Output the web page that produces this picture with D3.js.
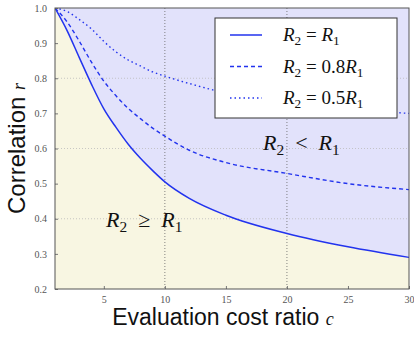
<!DOCTYPE html>
<html>
<head>
<meta charset="utf-8">
<script src="https://cdn.jsdelivr.net/npm/d3@7"></script>
<style>
  body { margin: 0; background: #fff; }
  svg { display: block; }
  .tick text { font-family: "Liberation Serif", serif; font-size: 10px; fill: #555; }
  .math { font-family: "Liberation Serif", serif; }
</style>
</head>
<body>
<script>
/* Data */

var costRatio = [1, 2, 3, 4, 5, 6, 7, 8, 9, 10, 12, 15, 20, 25, 30];
var corrEqual = [1.0, 0.935, 0.858, 0.782, 0.713, 0.66, 0.612, 0.572, 0.537, 0.505, 0.458, 0.41, 0.358, 0.32, 0.29];
var corr08 = [1.0, 0.96, 0.905, 0.845, 0.792, 0.75, 0.714, 0.685, 0.658, 0.635, 0.595, 0.56, 0.529, 0.50, 0.483];
var corr05 = [1.0, 0.99, 0.967, 0.94, 0.905, 0.875, 0.852, 0.835, 0.818, 0.806, 0.785, 0.758, 0.732, 0.712, 0.70];

var xTicks = [5, 10, 15, 20, 25, 30];
var yTicks = [0.2, 0.3, 0.4, 0.5, 0.6, 0.7, 0.8, 0.9, 1.0];
var xGrid = [10, 20];
var yGrid = [0.4, 0.6, 0.8];

var seriesNames = [["R", "2", " = ", "R", "1"], ["R", "2", " = 0.8", "R", "1"], ["R", "2", " = 0.5", "R", "1"]];
var seriesDash = [null, "4,3", "1.5,3"];

/* Chart */

var width = 414, height = 341;
var blue = "#2233ee";

var svg = d3.select("body").append("svg")
    .attr("width", width)
    .attr("height", height);

var x = d3.scaleLinear().domain([1, 30]).range([55, 409]);
var y = d3.scaleLinear().domain([0.2, 1.0]).range([289, 8]);

svg.append("clipPath").attr("id", "plot")
  .append("rect")
    .attr("x", x(1)).attr("y", y(1))
    .attr("width", x(30) - x(1)).attr("height", y(0.2) - y(1));

var plot = svg.append("g").attr("clip-path", "url(#plot)");

// R2 < R1 region
plot.append("rect")
    .attr("x", x(1)).attr("y", y(1))
    .attr("width", x(30) - x(1)).attr("height", y(0.2) - y(1))
    .attr("fill", "#e2e2fb");

var pts = costRatio.map(function(c, i) { return [c, corrEqual[i]]; });

// R2 >= R1 region
plot.append("path")
    .datum(pts)
    .attr("fill", "#f8f6e2")
    .attr("d", d3.area()
        .x(function(d) { return x(d[0]); })
        .y0(y(0.2))
        .y1(function(d) { return y(d[1]); })
        .curve(d3.curveMonotoneX));

// grid
plot.selectAll(".gx").data(xGrid).enter().append("line")
    .attr("x1", function(d) { return x(d); }).attr("x2", function(d) { return x(d); })
    .attr("y1", y(1)).attr("y2", y(0.2))
    .attr("stroke", "#666").attr("stroke-width", 0.8).attr("stroke-dasharray", "1,2");

plot.selectAll(".gy").data(yGrid).enter().append("line")
    .attr("x1", x(1)).attr("x2", x(30))
    .attr("y1", function(d) { return y(d); }).attr("y2", function(d) { return y(d); })
    .attr("stroke", "#bbb").attr("stroke-width", 0.8).attr("stroke-dasharray", "1,2");

var line = d3.line()
    .x(function(d) { return x(d[0]); })
    .y(function(d) { return y(d[1]); })
    .curve(d3.curveMonotoneX);

[corrEqual, corr08, corr05].forEach(function(vals, k) {
  plot.append("path")
      .datum(costRatio.map(function(c, i) { return [c, vals[i]]; }))
      .attr("fill", "none")
      .attr("stroke", blue)
      .attr("stroke-width", k == 0 ? 1.5 : 1.4)
      .attr("stroke-dasharray", seriesDash[k])
      .attr("d", line);
});

// axes
var xAxis = svg.append("g")
    .attr("transform", "translate(0," + y(0.2) + ")")
    .call(d3.axisBottom(x).tickValues(xTicks).tickSize(-3).tickPadding(7).tickFormat(d3.format("d")));
var yAxis = svg.append("g")
    .attr("transform", "translate(" + x(1) + ",0)")
    .call(d3.axisLeft(y).tickValues(yTicks).tickSize(-3).tickPadding(8).tickFormat(d3.format(".1f")));

[xAxis, yAxis].forEach(function(a) {
  a.select(".domain").remove();
  a.selectAll(".tick line").attr("stroke", "#777");
});

svg.append("rect")
    .attr("x", x(1)).attr("y", y(1))
    .attr("width", x(30) - x(1)).attr("height", y(0.2) - y(1))
    .attr("fill", "none").attr("stroke", "#555").attr("stroke-width", 1);

// math label helper
function mathText(g, parts, size) {
  var t = g.append("text").attr("class", "math").attr("font-size", size).attr("fill", "#111")
      .attr("xml:space", "preserve");
  t.append("tspan").attr("font-style", "italic").text(parts[0]);
  t.append("tspan").attr("font-size", size * 0.7).attr("dy", size * 0.22).text(parts[1]);
  t.append("tspan").attr("dy", -size * 0.22).text(parts[2]);
  t.append("tspan").attr("font-style", "italic").text(parts[3]);
  t.append("tspan").attr("font-size", size * 0.7).attr("dy", size * 0.22).text(parts[4]);
  return t;
}

// legend
var legend = svg.append("g");
legend.append("rect")
    .attr("x", 215).attr("y", 18).attr("width", 182).attr("height", 100)
    .attr("fill", "#fff").attr("stroke", "#333").attr("stroke-width", 1);

seriesNames.forEach(function(name, k) {
  var ly = 35 + k * 31.5;
  legend.append("line")
      .attr("x1", 230).attr("x2", 262).attr("y1", ly).attr("y2", ly)
      .attr("stroke", blue).attr("stroke-width", 1.5)
      .attr("stroke-dasharray", seriesDash[k]);
  mathText(legend, name, 19).attr("x", 283).attr("y", ly + 6);
});

// region labels
mathText(svg.append("g"), ["R", "2", "\u2002<\u2002", "R", "1"], 22).attr("x", 263).attr("y", 150);
mathText(svg.append("g"), ["R", "2", "\u2002\u2265\u2002", "R", "1"], 22).attr("x", 106).attr("y", 227);

// axis titles
var xt = svg.append("text")
    .attr("x", 223).attr("y", 325)
    .attr("text-anchor", "middle")
    .attr("font-family", "Liberation Sans, sans-serif")
    .attr("font-size", 23).attr("fill", "#111");
xt.append("tspan").text("Evaluation cost ratio ");
xt.append("tspan").attr("class", "math").attr("font-style", "italic").attr("font-size", 18).text("c");

var yt = svg.append("text")
    .attr("transform", "translate(25," + y(0.6) + ") rotate(-90)")
    .attr("text-anchor", "middle")
    .attr("font-family", "Liberation Sans, sans-serif")
    .attr("font-size", 24).attr("fill", "#111");
yt.append("tspan").text("Correlation ");
yt.append("tspan").attr("class", "math").attr("font-style", "italic").attr("font-size", 18).text("r");
</script>
</body>
</html>
